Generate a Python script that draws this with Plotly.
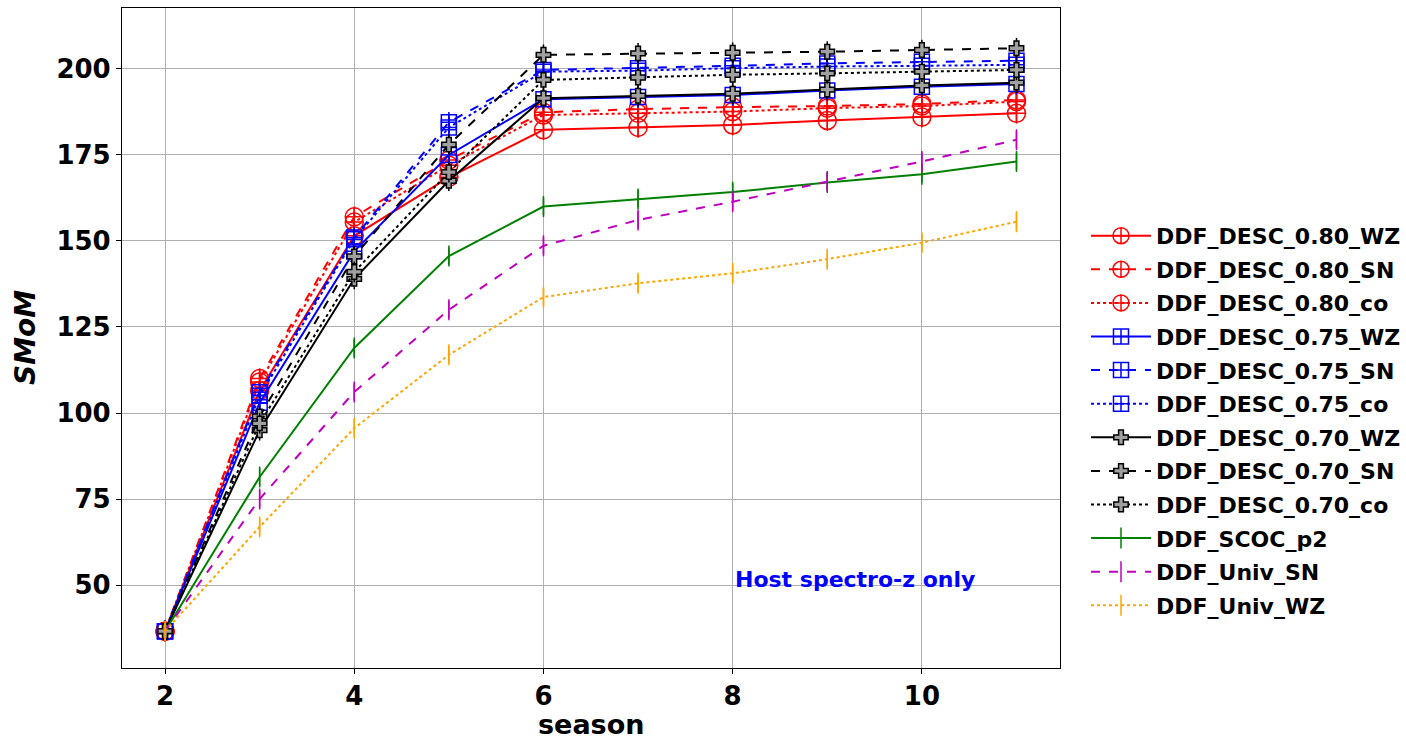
import plotly.graph_objects as go

seasons = [2, 3, 4, 5, 6, 7, 8, 9, 10, 11]

names = ["DDF_DESC_0.80_WZ", "DDF_DESC_0.80_SN", "DDF_DESC_0.80_co",
         "DDF_DESC_0.75_WZ", "DDF_DESC_0.75_SN", "DDF_DESC_0.75_co",
         "DDF_DESC_0.70_WZ", "DDF_DESC_0.70_SN", "DDF_DESC_0.70_co",
         "DDF_SCOC_p2", "DDF_Univ_SN", "DDF_Univ_WZ"]

desc_080_wz = [36.6, 106.5, 151.5, 168.5, 182.3, 183.0, 183.7, 185.0, 186.0, 187.1]
desc_080_sn = [36.6, 110.0, 157.0, 173.5, 187.4, 188.3, 188.9, 189.2, 189.8, 191.0]
desc_080_co = [36.6, 109.0, 155.5, 172.0, 186.6, 187.1, 187.6, 188.6, 189.2, 190.5]
desc_075_wz = [36.6, 103.0, 147.0, 175.0, 191.2, 191.8, 192.4, 193.7, 194.8, 195.6]
desc_075_sn = [36.6, 106.0, 151.0, 184.5, 199.7, 200.2, 200.9, 201.6, 202.1, 202.4]
desc_075_co = [36.6, 105.0, 150.5, 183.0, 199.2, 199.5, 200.2, 200.7, 200.9, 201.2]
desc_070_wz = [36.6, 95.0, 139.0, 167.5, 191.5, 192.2, 192.8, 194.0, 195.2, 196.0]
desc_070_sn = [36.6, 99.0, 145.5, 178.0, 204.1, 204.5, 204.7, 205.0, 205.5, 206.0]
desc_070_co = [36.6, 97.0, 141.0, 170.0, 196.8, 197.5, 198.3, 198.7, 199.2, 199.7]
scoc_p2 = [36.6, 81.4, 118.9, 145.6, 160.0, 162.2, 164.2, 167.0, 169.4, 173.1]
univ_sn = [36.6, 75.0, 106.1, 130.0, 148.6, 156.1, 161.4, 167.3, 173.1, 179.4]
univ_wz = [36.6, 66.9, 95.6, 116.9, 133.7, 137.7, 140.6, 144.7, 149.5, 155.6]

errors = [3.0, 3.0, 3.0, 3.0, 3.0, 3.0, 3.0, 3.0, 3.0, 2.5, 2.5, 2.5]

series = [desc_080_wz, desc_080_sn, desc_080_co,
          desc_075_wz, desc_075_sn, desc_075_co,
          desc_070_wz, desc_070_sn, desc_070_co,
          scoc_p2, univ_sn, univ_wz]

colors = ["red"] * 3 + ["blue"] * 3 + ["black"] * 3 + ["green", "#bf00bf", "orange"]
dashes = ["solid", "dash", "dot"] * 4
symbols = ["circle-cross-open"] * 3 + ["square-cross-open"] * 3 + ["cross"] * 3 + ["line-ns-open"] * 3
sizes = [18] * 3 + [15] * 3 + [12] * 3 + [15] * 3

fig = go.Figure()
for i, (nm, ys) in enumerate(zip(names, series)):
    c = colors[i]
    if symbols[i] == "cross":
        marker = dict(symbol="cross", size=sizes[i], color="#a0a0a0",
                      line=dict(color="black", width=1.5))
    else:
        marker = dict(symbol=symbols[i], size=sizes[i], color=c,
                      line=dict(color=c, width=1.5))
    fig.add_trace(go.Scatter(
        x=seasons, y=ys, name=nm, mode="lines+markers", legendgroup=nm,
        line=dict(color=c, dash=dashes[i], width=2),
        marker=marker,
        error_y=dict(type="constant", value=errors[i], color=c, thickness=1.5, width=0),
    ))

font_family = "DejaVu Sans"

fig.update_layout(
    width=1406, height=741,
    margin=dict(l=122, r=346, t=8, b=73),
    paper_bgcolor="white", plot_bgcolor="white",
    font=dict(family=font_family, color="black"),
    showlegend=True,
    legend=dict(
        xref="container", yref="container",
        x=0.7724, xanchor="left", y=0.432, yanchor="middle",
        font=dict(family=font_family, size=22, weight="bold", color="black"),
        tracegroupgap=2, itemwidth=60, bgcolor="rgba(0,0,0,0)",
        maxheight=700,
    ),
    annotations=[
        dict(x=8, y=51.5, xref="x", yref="y", xanchor="left", yanchor="middle",
             text="Host spectro-z only", showarrow=False,
             font=dict(family=font_family, size=22, weight="bold", color="blue")),
        dict(x=0.5, y=-0.0855, xref="paper", yref="paper", xanchor="center", yanchor="middle",
             text="season", showarrow=False,
             font=dict(family=font_family, size=27, weight="bold", color="black")),
        dict(x=-0.1034, y=0.5, xref="paper", yref="paper", xanchor="center", yanchor="middle",
             text="SMoM", showarrow=False, textangle=-90,
             font=dict(family=font_family, size=28, weight="bold", style="italic", color="black")),
    ],
)

fig.update_xaxes(
    range=[1.545, 11.46], tickvals=[2, 4, 6, 8, 10],
    showgrid=True, gridcolor="#b0b0b0", gridwidth=1,
    showline=True, linecolor="black", linewidth=1.2, mirror=True,
    ticks="outside", ticklen=5, tickcolor="black",
    tickfont=dict(family=font_family, size=26, weight="bold"),
    zeroline=False, automargin=False,
)
fig.update_yaxes(
    range=[25.9, 217.7], tickvals=[50, 75, 100, 125, 150, 175, 200],
    showgrid=True, gridcolor="#b0b0b0", gridwidth=1,
    showline=True, linecolor="black", linewidth=1.2, mirror=True,
    ticks="outside", ticklen=5, tickcolor="black",
    tickfont=dict(family=font_family, size=26, weight="bold"),
    zeroline=False, automargin=False,
)

fig.write_html("out.html")
